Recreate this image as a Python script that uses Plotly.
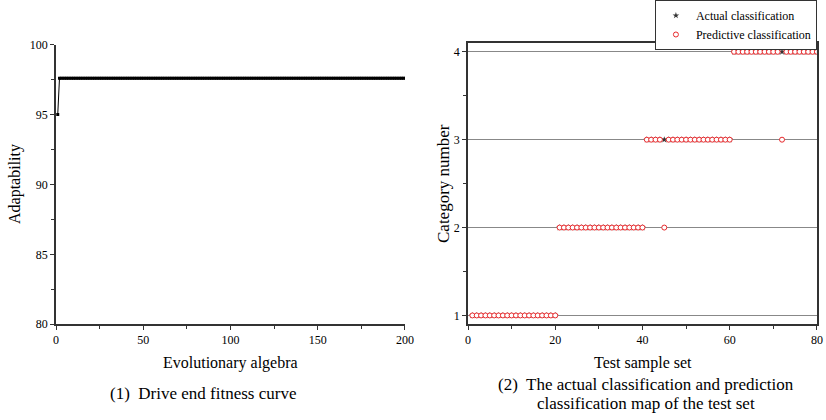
import plotly.graph_objects as go

# Left panel data: fitness curve
generations = list(range(1, 201))
fitness = [95.0] + [97.6] * 199

# Right panel data: test set classification
samples = list(range(1, 81))
actual_class = [1] * 20 + [2] * 20 + [3] * 20 + [4] * 20
predicted_class = ([1] * 20 + [2] * 20 + [3] * 4 + [2] + [3] * 15
                   + [4] * 11 + [3] + [4] * 8)

FONT = "Liberation Serif, Times New Roman, serif"

fig = go.Figure()

fig.add_trace(go.Scatter(
    x=generations, y=fitness, mode="lines+markers",
    line=dict(color="black", width=1),
    marker=dict(symbol="square", size=3, color="black"),
    showlegend=False, xaxis="x", yaxis="y"))

fig.add_trace(go.Scatter(
    x=samples, y=actual_class, mode="markers", name="Actual classification",
    marker=dict(symbol="star", size=5, color="#333333"),
    xaxis="x2", yaxis="y2"))

fig.add_trace(go.Scatter(
    x=samples, y=predicted_class, mode="markers", name="Predictive classification",
    marker=dict(symbol="circle", size=5, color="white", line=dict(width=1, color="#e8282b")),
    xaxis="x2", yaxis="y2"))

axis_common = dict(showline=True, linecolor="#333333", linewidth=1.5, ticks="outside",
                   ticklen=4, tickcolor="#333333", showgrid=False, zeroline=False,
                   automargin=False,
                   tickfont=dict(family=FONT, size=12, color="black"))

fig.update_layout(
    width=826, height=420,
    margin=dict(l=0, r=0, t=0, b=0, autoexpand=False),
    plot_bgcolor="white", paper_bgcolor="white",
    font=dict(family=FONT, color="black"),
    xaxis=dict(domain=[0.0678, 0.4903], range=[0, 200], tickvals=[0, 50, 100, 150, 200],
               minor=dict(tickvals=[25, 75, 125, 175], ticks="outside", ticklen=3, tickcolor="#333333"),
               anchor="y", **axis_common),
    yaxis=dict(domain=[0.2280, 0.8936], range=[80, 100], tickvals=[80, 85, 90, 95, 100],
               minor=dict(tickvals=[82.5, 87.5, 92.5, 97.5], ticks="outside", ticklen=3, tickcolor="#333333"),
               anchor="x", **axis_common),
    xaxis2=dict(domain=[0.5666, 0.989], range=[0, 80], tickvals=[0, 20, 40, 60, 80],
                minor=dict(tickvals=[10, 30, 50, 70], ticks="outside", ticklen=3, tickcolor="#333333"),
                anchor="y2", mirror=True, **axis_common),
    yaxis2=dict(domain=[0.2280, 0.8976], range=[0.9, 4.1], tickvals=[1, 2, 3, 4],
                minor=dict(tickvals=[1.5, 2.5, 3.5], ticks="outside", ticklen=3, tickcolor="#333333"),
                anchor="x2", mirror=True, **axis_common),
    legend=dict(x=0.989, y=1.0, xanchor="right", yanchor="top",
                bordercolor="#333333", borderwidth=1, bgcolor="white",
                font=dict(family=FONT, size=12, color="black"),
                itemsizing="trace", tracegroupgap=0, itemwidth=30),
)

fig.update_yaxes(showgrid=True, gridcolor="#888888", gridwidth=1, selector=dict(anchor="x2"))

annos = [
    dict(text="Evolutionary algebra", x=230, y=363, size=16, angle=0),
    dict(text="Adaptability", x=15, y=184, size=16, angle=-90),
    dict(text="(1)  Drive end fitness curve", x=203, y=393, size=17, angle=0),
    dict(text="Test sample set", x=643, y=363, size=16, angle=0),
    dict(text="Category number", x=443, y=184, size=17, angle=-90),
    dict(text="(2)  The actual classification and prediction", x=646, y=384, size=17, angle=0),
    dict(text="classification map of the test set", x=646, y=403, size=17, angle=0),
]
for a in annos:
    fig.add_annotation(text=a["text"], x=a["x"] / 826, y=1 - a["y"] / 420,
                       xref="paper", yref="paper", xanchor="center", yanchor="middle",
                       showarrow=False, textangle=a["angle"],
                       font=dict(family=FONT, size=a["size"], color="black"))

fig.write_html("out.html")
